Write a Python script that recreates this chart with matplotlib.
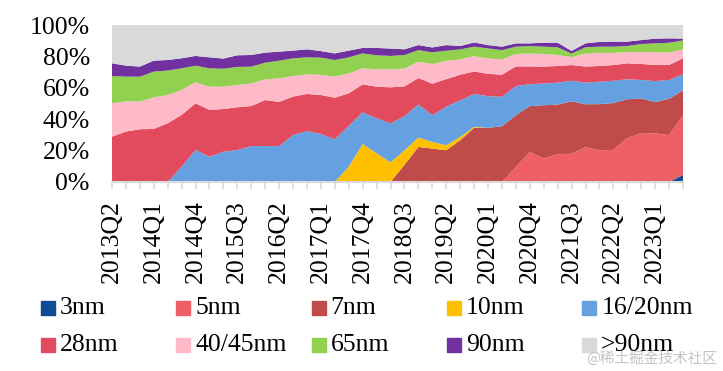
import matplotlib
matplotlib.use("Agg")
import matplotlib.pyplot as plt
from matplotlib.patches import Rectangle
import numpy as np

plt.rcParams['font.family'] = ['Liberation Serif', 'DejaVu Serif']

quarters = ['2013Q2', '2013Q3', '2013Q4', '2014Q1', '2014Q2', '2014Q3', '2014Q4',
            '2015Q1', '2015Q2', '2015Q3', '2015Q4', '2016Q1', '2016Q2', '2016Q3',
            '2016Q4', '2017Q1', '2017Q2', '2017Q3', '2017Q4', '2018Q1', '2018Q2',
            '2018Q3', '2018Q4', '2019Q1', '2019Q2', '2019Q3', '2019Q4', '2020Q1',
            '2020Q2', '2020Q3', '2020Q4', '2021Q1', '2021Q2', '2021Q3', '2021Q4',
            '2022Q1', '2022Q2', '2022Q3', '2022Q4', '2023Q1', '2023Q2', '2023Q3']

# share of wafer revenue by node, %
nm3 = [0] * 41 + [4.5]
nm5 = [0] * 29 + [9.6, 19.1, 14.9, 17.7, 18.0, 22.3, 20.2, 20.5, 28.0, 31.2,
                  31.0, 29.9, 37.8]
nm7 = [0] * 21 + [10.9, 22.3, 21.3, 20.2, 26.6, 34.5, 34.5, 35.5, 33.0, 29.2,
                  34.0, 31.6, 33.4, 27.2, 29.4, 29.8, 24.7, 22.0, 19.9, 23.1, 16.1]
nm10 = [0] * 17 + [9.8, 24.2, 18.3, 12.5, 9.3, 6.0, 4.2, 3.2, 2.1, 0.6] + [0] * 15
nm16 = [0, 0, 0, 0, 0, 9.8, 20.4, 16.1, 19.3, 20.4, 22.9, 22.9, 22.9, 29.9,
        32.5, 30.6, 27.2, 25.9, 20.2, 22.3, 24.9, 21.7, 21.1, 17.1, 24.5, 23.4,
        20.9, 20.2, 18.8, 18.5, 14.0, 13.9, 14.0, 13.1, 13.8, 14.3, 14.2, 12.7,
        11.8, 13.4, 12.0, 10.2]
nm28 = [28.9, 32.1, 33.6, 33.8, 37.4, 32.9, 29.7, 29.8, 27.2, 27.2, 25.5, 29.3,
        28.1, 24.5, 23.6, 24.8, 26.5, 20.8, 17.8, 20.1, 22.9, 19.0, 16.8, 20.0,
        17.6, 16.2, 14.4, 14.2, 14.0, 12.5, 11.3, 10.7, 10.6, 10.0, 10.2, 10.0,
        10.0, 10.2, 10.2, 10.2, 9.5, 10.2]
nm40 = [21.2, 19.3, 17.6, 20.1, 18.0, 15.9, 13.4, 14.8, 14.2, 14.2, 14.4, 13.2,
        15.0, 13.1, 12.5, 12.8, 13.4, 12.7, 10.2, 11.1, 11.5, 11.4, 10.4, 12.5,
        11.7, 9.8, 9.8, 9.8, 9.8, 7.9, 8.3, 8.0, 7.0, 5.1, 8.3, 8.3, 7.7, 7.2,
        7.6, 8.1, 7.9, 5.7]
nm65 = [17.4, 15.7, 15.9, 16.4, 15.6, 13.8, 10.6, 11.7, 11.5, 11.5, 10.7, 10.6,
        11.3, 11.3, 10.8, 11.0, 10.6, 10.2, 9.5, 8.9, 8.5, 8.6, 7.4, 7.5, 6.4,
        6.4, 6.0, 6.4, 5.9, 4.7, 4.7, 4.7, 4.9, 2.2, 4.0, 4.0, 4.0, 3.8, 5.1,
        5.7, 6.3, 5.7]
nm90 = [8.1, 7.0, 6.4, 7.0, 6.7, 6.4, 6.2, 7.0, 6.4, 7.4, 7.4, 6.4, 5.7, 4.9,
        5.1, 4.2, 4.2, 4.3, 3.5, 4.7, 4.7, 3.6, 3.2, 3.1, 3.6, 2.1, 2.7, 2.1,
        2.2, 2.1, 1.7, 2.5, 2.9, 1.7, 2.5, 3.0, 3.2, 2.8, 2.5, 3.0, 2.8, 1.1]
over90 = [24.4, 25.9, 26.5, 22.7, 22.3, 21.2, 19.7, 20.6, 21.4, 19.3, 19.1, 17.6,
          17.0, 16.3, 15.5, 16.6, 18.1, 16.3, 14.6, 14.6, 15.0, 15.5, 12.8, 14.3,
          12.8, 13.4, 11.1, 12.8, 13.8, 11.7, 11.7, 11.3, 11.3, 16.5, 11.7, 10.8,
          10.6, 10.6, 9.6, 8.7, 8.5, 8.7]

names = ['3nm', '5nm', '7nm', '10nm', '16/20nm',
         '28nm', '40/45nm', '65nm', '90nm', '>90nm']
colors = ['#0E4C92', '#EF6064', '#BF4B4B', '#FFC000', '#65A0E0',
          '#E24A5E', '#FFBACA', '#92D050', '#7030A0', '#D9D9D9']
series = [nm3, nm5, nm7, nm10, nm16, nm28, nm40, nm65, nm90, over90]

W, H = 723, 371
fig = plt.figure(figsize=(W / 100, H / 100), dpi=100)
ax = fig.add_axes([112 / W, 1 - 182 / H, (683 - 112) / W, (182 - 25) / H])

x = np.arange(len(quarters))
ax.stackplot(x, *series, colors=colors, linewidth=0, antialiased=True)

ax.set_xlim(0, len(quarters) - 1)
ax.set_ylim(0, 100)

ax.set_yticks(range(0, 101, 20))
ax.set_yticklabels([f'{v}%' for v in range(0, 101, 20)], fontsize=18.5)
ax.tick_params(axis='y', length=0, pad=16)

ax.set_xticks(x)
ax.set_xticklabels([q if i % 3 == 0 else '' for i, q in enumerate(quarters)],
                   rotation=90, fontsize=18.5)
ax.tick_params(axis='x', length=5, width=1.2, color='#D9D9D9', pad=8)

for s in ['top', 'right', 'left']:
    ax.spines[s].set_visible(False)
ax.spines['bottom'].set_color('#D9D9D9')
ax.spines['bottom'].set_linewidth(1.5)

# legend, 2 rows x 5 columns
for k, (nm, c) in enumerate(zip(names, colors)):
    row, col = divmod(k, 5)
    lx = 41 + 135.3 * col
    ly = 308 + 37 * row
    fig.patches.append(Rectangle((lx / W, 1 - (ly + 7) / H), 14 / W, 14 / H,
                                 transform=fig.transFigure, color=c))
    fig.text((lx + 19) / W, 1 - ly / H, nm, fontsize=18.5, va='center',
             ha='left')

fig.text(717 / W, 1 - 358 / H, '@稀土掘金技术社区', fontsize=10.5, color='#C4C4C4',
         ha='right', va='center', family=['Noto Sans CJK SC', 'DejaVu Sans'])

fig.savefig('out.png', dpi=100)
